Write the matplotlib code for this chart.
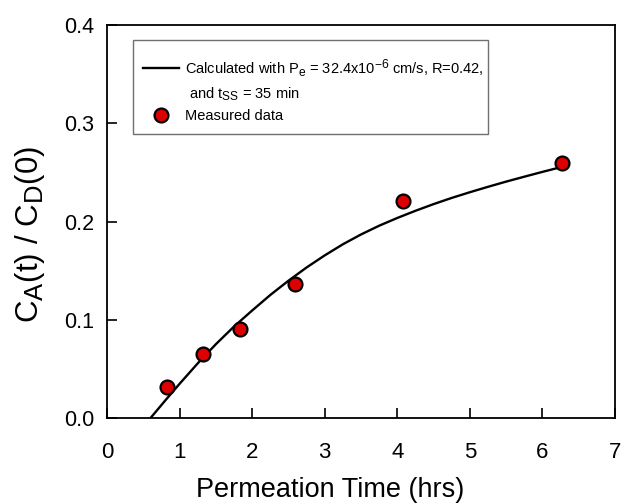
import matplotlib.pyplot as plt
import matplotlib._mathtext as mathtext_interno
from matplotlib.lines import Line2D
from matplotlib.patches import Rectangle

plt.rcParams['font.family'] = ['Liberation Sans', 'DejaVu Sans']
plt.rcParams['mathtext.fontset'] = 'custom'
plt.rcParams['mathtext.rm'] = 'Liberation Sans'
plt.rcParams['mathtext.it'] = 'Liberation Sans'
plt.rcParams['mathtext.default'] = 'rm'
# subscripts in the original are only slightly smaller than the text
mathtext_interno.SHRINK_FACTOR = 0.82

# measured data
tempo_medido = [0.82, 1.32, 1.83, 2.585, 4.08, 6.27]
conc_medida = [0.032, 0.065, 0.091, 0.136, 0.221, 0.260]

# calculated curve
tempo_calc = [0.60, 0.80, 1.00, 1.25, 1.50, 1.75, 2.00, 2.25, 2.50, 2.75,
              3.00, 3.25, 3.50, 3.75, 4.00, 4.25, 4.50, 4.75, 5.00, 5.25,
              5.50, 5.75, 6.00, 6.27]
conc_calc = [0.0000, 0.0176, 0.0348, 0.0556, 0.0751, 0.0931, 0.1094, 0.1252, 0.1397,
             0.1532, 0.1655, 0.1768, 0.1868, 0.1957, 0.2036, 0.2109, 0.2177, 0.2240,
             0.2298, 0.2353, 0.2406, 0.2456, 0.2505, 0.2556]

rotulo_calc = 'Calculated with P$_e$ = 32.4x10$^{-6}$ cm/s, R=0.42,'
rotulo_calc2 = ' and t$_{SS}$ = 35 min'
rotulo_medido = 'Measured data'


def principal():
    fig = plt.figure(figsize=(6.38, 5.04), dpi=100)
    ax = fig.add_axes([107 / 638, 1 - 418 / 504, 508 / 638, 393 / 504])

    ax.plot(tempo_calc, conc_calc, color='black', linewidth=1.7)
    ax.plot(tempo_medido, conc_medida, 'o', color='#dd0000',
            markeredgecolor='black', markeredgewidth=1.6,
            markersize=10, linestyle='none')

    ax.set_xlim(0, 7)
    ax.set_ylim(0, 0.4)
    ax.set_xticks(range(0, 8))
    ax.set_yticks([0.0, 0.1, 0.2, 0.3, 0.4])
    ax.set_yticklabels(['0.0', '0.1', '0.2', '0.3', '0.4'])
    ax.tick_params(direction='in', length=7, width=1.2,
                   top=False, right=False)
    ax.tick_params(axis='x', labelsize=16, pad=17)
    ax.tick_params(axis='y', labelsize=15.5, pad=9)
    for s in ax.spines.values():
        s.set_linewidth(1.3)

    ax.set_xlabel('Permeation Time (hrs)', fontsize=19.5)
    ax.xaxis.set_label_coords(0.44, -0.150)
    ax.set_ylabel('C$_A$(t) / C$_D$(0)', fontsize=22.5)
    ax.yaxis.set_label_coords(-0.118, 0.466)

    # legend box
    fig.patches.append(Rectangle((133 / 638, 1 - 134 / 504), 355 / 638, 94 / 504,
                                 transform=fig.transFigure, fill=False,
                                 edgecolor='#707070', linewidth=1.0))
    h_linha = Line2D([], [], color='black', linewidth=1.7)
    h_vazio = Line2D([], [], linestyle='none')
    h_ponto = Line2D([], [], marker='o', color='#dd0000', markeredgecolor='black',
                     markeredgewidth=1.6, markersize=10, linestyle='none')
    ax.legend([h_linha, h_vazio, h_ponto], [rotulo_calc, rotulo_calc2, rotulo_medido],
              loc='upper left', bbox_to_anchor=(143 / 638, 1 - 57 / 504),
              bbox_transform=fig.transFigure, fontsize=10.5, frameon=False,
              handlelength=2.45, handletextpad=0.4, borderpad=0,
              labelspacing=0.45, borderaxespad=0)

    fig.savefig('out.png', dpi=100)


if __name__ == '__main__':
    principal()
